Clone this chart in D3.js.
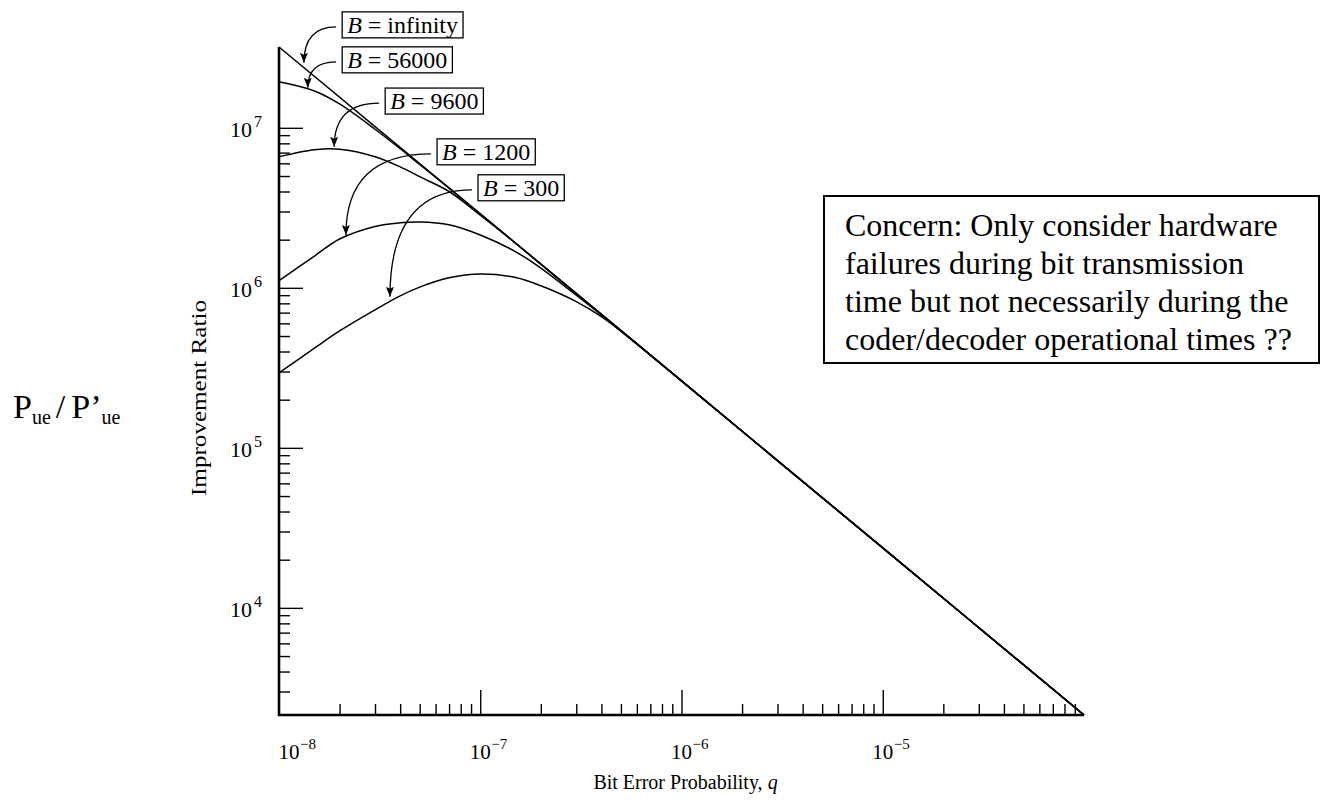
<!DOCTYPE html>
<html>
<head>
<meta charset="utf-8">
<script src="https://cdn.jsdelivr.net/npm/d3@7"></script>
<style>
body { margin: 0; background: #fff; }
text { font-family: "Liberation Serif", "Times New Roman", serif; fill: #000; }
</style>
</head>
<body>
<div id="chart"></div>
<script>
// values (q = bit error probability, v = improvement ratio)
const qInf = [1e-8, 1e-7, 1e-6, 1e-5, 1e-4];
const vInf = [3.2e7, 2.9e6, 2.62e5, 2.37e4, 2140];

const q56000 = [1e-8, 1.5e-8, 2e-8, 3e-8, 4e-8, 5e-8, 7e-8, 1e-7, 1e-6, 1e-5, 1e-4];
const v56000 = [1.94e7, 1.70e7, 1.41e7, 9.8e6, 7.4e6, 5.9e6, 4.2e6, 2.9e6, 2.62e5, 2.37e4, 2140];

const q9600 = [1e-8, 1.5e-8, 2e-8, 3e-8, 4e-8, 5e-8, 7e-8, 1e-7, 1.5e-7, 1e-6, 1e-5, 1e-4];
const v9600 = [6.59e6, 7.29e6, 7.35e6, 6.6e6, 5.7e6, 4.95e6, 4.0e6, 2.85e6, 1.9e6, 2.62e5, 2.37e4, 2140];

const q1200 = [1e-8, 1.5e-8, 2e-8, 3e-8, 4e-8, 5e-8, 7e-8, 1e-7, 1.5e-7, 2e-7, 3e-7, 5e-7, 1e-6, 1e-5, 1e-4];
const v1200 = [1.11e6, 1.58e6, 2.02e6, 2.42e6, 2.55e6, 2.58e6, 2.48e6, 2.14e6, 1.68e6, 1.33e6, 9.0e5, 5.4e5, 2.62e5, 2.37e4, 2140];

const q300 = [1e-8, 1.5e-8, 2e-8, 3e-8, 4e-8, 5e-8, 7e-8, 1e-7, 1.5e-7, 2e-7, 3e-7, 4e-7, 5e-7, 7e-7, 1e-6, 1e-5, 1e-4];
const v300 = [2.94e5, 4.2e5, 5.38e5, 7.29e5, 8.91e5, 1.01e6, 1.155e6, 1.22e6, 1.16e6, 1.03e6, 8.2e5, 6.6e5, 5.35e5, 3.8e5, 2.62e5, 2.37e4, 2140];

const seriesNames = ['infinity', '56000', '9600', '1200', '300'];
const seriesQ = [qInf, q56000, q9600, q1200, q300];
const seriesV = [vInf, v56000, v9600, v1200, v300];

// label box anchors (left middle of box) and arrow tips, in data units
const labelQ = [2.06e-8, 2.06e-8, 3.37e-8, 6.10e-8, 9.75e-8];
const labelV = [4.40e7, 2.66e7, 1.47e7, 7.08e6, 4.22e6];
const tipQ = [1.33e-8, 1.39e-8, 1.88e-8, 2.15e-8, 3.56e-8];
const tipV = [2.55e7, 1.78e7, 7.61e6, 2.14e6, 8.79e5];

const xMajor = [1e-8, 1e-7, 1e-6, 1e-5];
const xExp = ['\u22128', '\u22127', '\u22126', '\u22125'];
const yMajor = [1e4, 1e5, 1e6, 1e7];
const yExp = ['4', '5', '6', '7'];
const xDomain = [1e-8, 1e-4];
const yDomain = [2140, 3.2e7];

const noteLines = ['Concern: Only consider hardware',
                   'failures during bit transmission',
                   'time but not necessarily during the',
                   'coder/decoder operational times ??'];

function main_chart() {
const width = 1324, height = 804;

const svg = d3.select('#chart')
              .append('svg')
              .attr('width', width)
              .attr('height', height);

let x = d3.scaleLog().domain(xDomain).range([279, 1084]);
let y = d3.scaleLog().domain(yDomain).range([715, 47]);

const x0 = x.range()[0], y0 = y.range()[0];

// minor ticks
let xMinor = x.ticks().filter(t => !xMajor.some(m => Math.abs(m - t) / m < 1e-6) && t > xDomain[0] * 1.01 && t < xDomain[1] * 0.99);
let yMinor = y.ticks().filter(t => !yMajor.some(m => Math.abs(m - t) / m < 1e-6) && t < 1e7);

svg.append('g')
   .attr('transform', 'translate(0,' + y0 + ')')
   .call(d3.axisTop(x).tickValues(xMinor).tickSize(11).tickFormat(''))
   .call(g => g.select('.domain').remove());
svg.append('g')
   .attr('transform', 'translate(0,' + y0 + ')')
   .call(d3.axisTop(x).tickValues(xMajor.slice(1)).tickSize(25).tickFormat(''))
   .call(g => g.select('.domain').remove());
svg.append('g')
   .attr('transform', 'translate(' + x0 + ',0)')
   .call(d3.axisRight(y).tickValues(yMinor).tickSize(11).tickFormat(''))
   .call(g => g.select('.domain').remove());
svg.append('g')
   .attr('transform', 'translate(' + x0 + ',0)')
   .call(d3.axisRight(y).tickValues(yMajor).tickSize(24).tickFormat(''))
   .call(g => g.select('.domain').remove());
svg.selectAll('.tick line').attr('stroke', '#000').attr('stroke-width', 1.4);

// axis lines
svg.append('line')
   .attr('x1', x0).attr('x2', x0)
   .attr('y1', y.range()[1]).attr('y2', y0 + 1)
   .attr('stroke', '#000').attr('stroke-width', 2.6);
svg.append('line')
   .attr('x1', x0 - 1).attr('x2', x.range()[1])
   .attr('y1', y0).attr('y2', y0)
   .attr('stroke', '#000').attr('stroke-width', 2.6);

// tick labels
xMajor.forEach((t, i) => {
    let cx = i === 0 ? x(t) + 10 : x(t);
    let g = svg.append('g').attr('transform', 'translate(' + cx + ',' + 759 + ')');
    g.append('text').attr('text-anchor', 'middle').style('font-size', '21px').text('10');
    g.append('text').attr('x', 11).attr('y', -10).style('font-size', '15px').text(xExp[i]);
});
yMajor.forEach((t, i) => {
    let g = svg.append('g').attr('transform', 'translate(' + (x0 - 27) + ',' + (y(t) + 9) + ')');
    g.append('text').attr('text-anchor', 'end').style('font-size', '22px').text('10');
    g.append('text').attr('x', 2).attr('y', -10).style('font-size', '16px').text(yExp[i]);
});

svg.append('text')
   .attr('transform', 'translate(206,' + 398 + ') rotate(-90)')
   .attr('text-anchor', 'middle')
   .attr('textLength', 196)
   .attr('lengthAdjust', 'spacingAndGlyphs')
   .style('font-size', '22px')
   .text('Improvement Ratio');

let xt = svg.append('text')
   .attr('x', x(1e-6) + 4)
   .attr('y', 789)
   .attr('text-anchor', 'middle')
   .style('font-size', '20px');
xt.append('tspan').text('Bit Error Probability, ');
xt.append('tspan').style('font-style', 'italic').text('q');

// curves
let line = d3.line()
             .x(d => x(d[0]))
             .y(d => y(d[1]))
             .curve(d3.curveCatmullRom.alpha(0.5));

seriesQ.forEach((qs, i) => {
    let pts = qs.map((q, j) => [q, seriesV[i][j]]);
    svg.append('path')
       .datum(pts)
       .attr('class', 'curve')
       .attr('d', line)
       .style('fill', 'none')
       .style('stroke', '#000')
       .style('stroke-width', 1.5);
});

// arrows and labelled boxes
svg.append('defs').append('marker')
   .attr('id', 'head')
   .attr('viewBox', '0 0 10 8')
   .attr('refX', 10).attr('refY', 4)
   .attr('markerWidth', 10).attr('markerHeight', 8)
   .attr('markerUnits', 'userSpaceOnUse')
   .attr('orient', 'auto')
   .append('path')
   .attr('d', 'M0,0 L10,4 L0,8 L2,4 z')
   .style('fill', '#000');

seriesNames.forEach((name, i) => {
    let bx = x(labelQ[i]), by = y(labelV[i]);
    let tx = x(tipQ[i]), ty = y(tipV[i]);
    let p = d3.path();
    p.moveTo(bx - 6, by + 2);
    p.quadraticCurveTo(tx, by + 2, tx, ty);
    svg.append('path')
       .attr('d', p.toString())
       .style('fill', 'none')
       .style('stroke', '#000')
       .style('stroke-width', 1.3)
       .attr('marker-end', 'url(#head)');

    let g = svg.append('g').attr('class', 'blabel');
    let box = g.append('rect')
       .attr('x', bx)
       .attr('y', by - 13)
       .attr('height', 26)
       .style('fill', '#fff')
       .style('stroke', '#000')
       .style('stroke-width', 1.3);
    let t = g.append('text')
             .attr('x', bx + 5)
             .attr('y', by + 8)
             .style('font-size', '24px');
    t.append('tspan').style('font-style', 'italic').text('B');
    t.append('tspan').text(' = ' + name);
    box.attr('width', t.node().getBBox().width + 10);
});

// note box
svg.append('rect')
   .attr('x', 824).attr('y', 196)
   .attr('width', 495).attr('height', 167)
   .style('fill', '#fff')
   .style('stroke', '#000')
   .style('stroke-width', 2);
svg.selectAll('.note')
   .data(noteLines)
   .enter()
   .append('text')
   .attr('class', 'note')
   .attr('x', 845)
   .attr('y', (d, i) => 236 + i * 38)
   .style('font-size', '32px')
   .text(d => d);

// P_ue / P'_ue
let pl = svg.append('text').attr('x', 13).attr('y', 418).style('font-size', '34px');
pl.append('tspan').text('P');
pl.append('tspan').style('font-size', '20px').attr('dy', 6).text('ue');
pl.append('tspan').attr('dy', -6).attr('dx', 5).text('/');
pl.append('tspan').attr('dx', 6).text('P\u2019');
pl.append('tspan').style('font-size', '20px').attr('dy', 6).text('ue');
}

main_chart();
</script>
</body>
</html>
